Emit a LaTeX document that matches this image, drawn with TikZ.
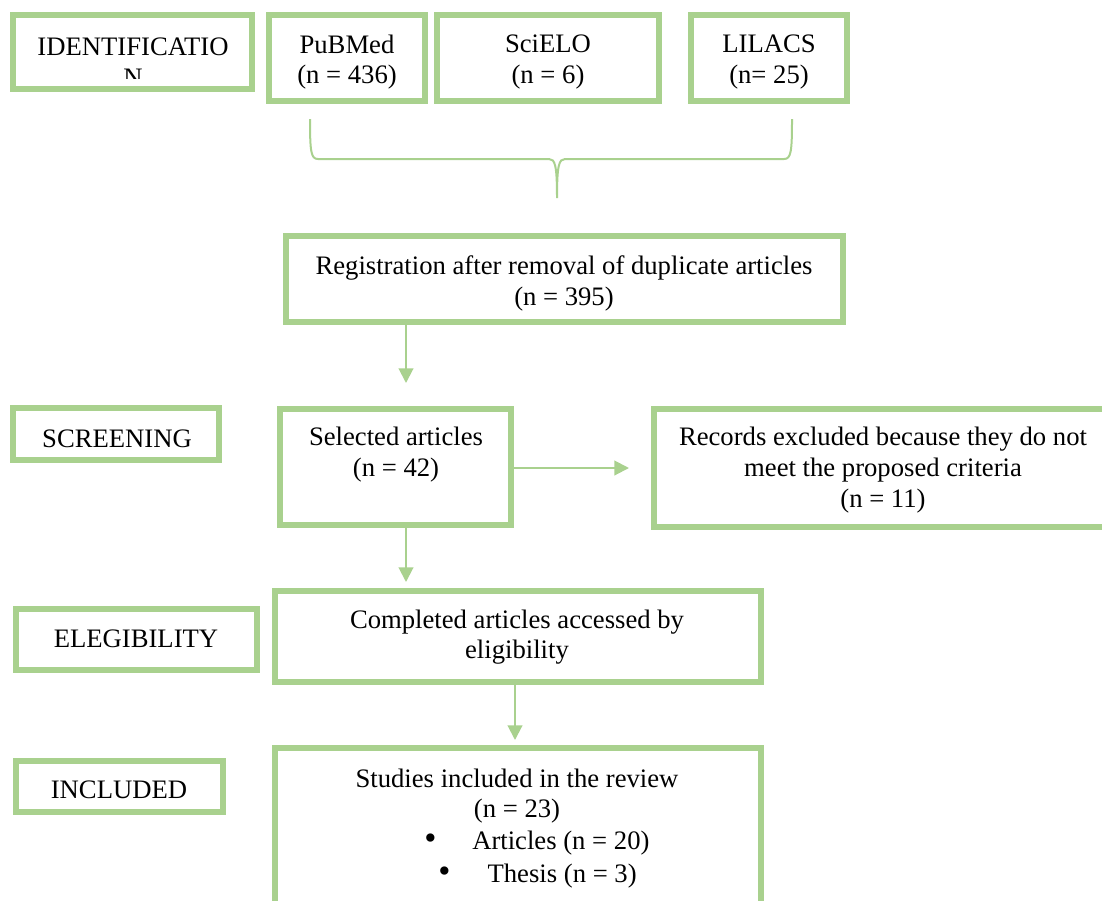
\documentclass[tikz,border=0pt]{standalone}
\usepackage{fontspec}
\setmainfont{Liberation Serif}
\usetikzlibrary{arrows.meta}
\definecolor{grn}{RGB}{169,209,142}
\begin{document}
\begin{tikzpicture}[x=0.75pt,y=-0.75pt,
  box/.style 2 args={draw=grn, line width=4pt, fill=white, minimum width=#1*0.75pt, minimum height=#2*0.75pt, inner sep=0pt, outer sep=0pt},
  txt/.style={align=center, inner sep=0pt, font=\fontsize{20}{23}\selectfont},
  arr/.style={draw=grn, line width=1.5pt, -{Triangle[width=11pt,length=11pt]}},
  brace/.style={draw=grn, line width=1.5pt}]
\useasboundingbox (0,0) rectangle (1102,900);
\begin{scope}
\clip (0,0) rectangle (1102,900);
% boxes
\node[box={239}{74}] (idb) at (132.5,52) {};
\node[box={156}{86}] (pub) at (347,58) {};
\node[box={222}{86}] (sci) at (548,58) {};
\node[box={156}{86}] (lil) at (769,58) {};
\node[box={557}{86}] (reg) at (564.5,279) {};
\node[box={206}{52}] (scrb) at (116,434) {};
\node[box={231}{116}] (sel) at (395.5,467) {};
\node[box={458}{118}] (rec) at (883,468) {};
\node[box={241}{61}] (elib) at (136.5,639.5) {};
\node[box={486}{91}] (comp) at (518,636.5) {};
\node[box={207}{51}] (incb) at (119.5,786.5) {};
\node[box={486}{182}] (stud) at (518,839) {};
% texts
\begin{scope}
\clip (16,17) rectangle (250,78);
\node[txt] (idt) at (133,62) {IDENTIFICATIO\\N};
\end{scope}
\node[txt] (pubt) at (347,62) {PuBMed\\(n = 436)};
\node[txt] (scit) at (548,62) {SciELO\\(n = 6)};
\node[txt] (lilt) at (769,62) {LILACS\\(n= 25)};
\node[txt] (regt) at (564,283.5) {Registration after removal of duplicate articles\\(n = 395)};
\node[txt] (scrt) at (117,439) {SCREENING};
\node[txt] (selt) at (396,454.5) {Selected articles\\(n = 42)};
\node[txt] (rect) at (883,470) {Records excluded because they do not\\meet the proposed criteria\\(n = 11)};
\node[txt] (elit) at (136,639) {ELEGIBILITY};
\node[txt] (compt) at (517,637) {Completed articles accessed by\\eligibility};
\node[txt] (inct) at (119,790) {INCLUDED};
\node[txt] (studt) at (517,796) {Studies included in the review\\(n = 23)};
\node[txt, anchor=west] (art) at (424,843) {\makebox[36pt][l]{{\fontsize{26}{26}\selectfont\textbullet}}Articles (n = 20)};
\node[txt, anchor=west] (the) at (438,876) {\makebox[37pt][l]{{\fontsize{26}{26}\selectfont\textbullet}}Thesis (n = 3)};
% brace
\draw[brace] (310,119) .. controls (310,152) and (311,159) .. (318,159) -- (549,159)
  .. controls (555,159) and (557,165) .. (557,198)
  .. controls (557,165) and (559,159) .. (565,159) -- (784,159)
  .. controls (791,159) and (792,152) .. (792,119);
% arrows
\coordinate (a1) at (406,383);
\coordinate (a2) at (629,468);
\coordinate (a3) at (406,582);
\coordinate (a4) at (515,740);
\draw[arr] (reg.south -| a1) -- (a1);
\draw[arr] (sel.east |- a2) -- (a2);
\draw[arr] (sel.south -| a3) -- (a3);
\draw[arr] (comp.south -| a4) -- (a4);
\end{scope}
\end{tikzpicture}
\end{document}
